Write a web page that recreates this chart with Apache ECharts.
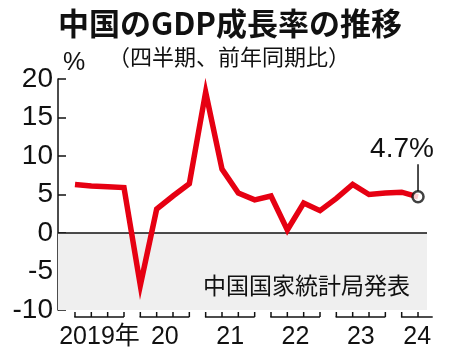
<!DOCTYPE html>
<html><head><meta charset="utf-8">
<script src="https://cdn.jsdelivr.net/npm/echarts@6/dist/echarts.min.js"></script>
<style>html,body{margin:0;padding:0;background:#fff}#c{width:450px;height:358px}</style>
</head><body><div id="c"></div>
<script>
// Quarterly GDP growth, 2019 Q1 .. 2024 Q2
const quarters = ['2019Q1','2019Q2','2019Q3','2019Q4','2020Q1','2020Q2','2020Q3','2020Q4','2021Q1','2021Q2','2021Q3','2021Q4','2022Q1','2022Q2','2022Q3','2022Q4','2023Q1','2023Q2','2023Q3','2023Q4','2024Q1','2024Q2'];
const growth = [6.3,6.1,6.0,5.9,-6.8,3.1,4.8,6.4,18.3,8.3,5.2,4.3,4.8,0.4,3.9,2.9,4.5,6.3,5.0,5.2,5.3,4.7];
const yearLabels = ['2019年','20','21','22','23','24'];
const yearFirstIdx = [0,4,8,12,16,20];
const yearLastIdx = [3,7,11,15,19,21];
const yTicks = [-10,-5,0,5,10,15,20];

const FONT = '"Noto Sans CJK JP", "Noto Sans", sans-serif';
const NUMFONT = '"Liberation Sans", "Noto Sans CJK JP", sans-serif';
const chart = echarts.init(document.getElementById('c'), null, {renderer:'canvas'});
const lineData = growth.map((v,i)=>[i,v]);
const bracketData = yearLabels.map((l,i)=>[yearFirstIdx[i], yearLastIdx[i], i]);

chart.setOption({
  animation:false,
  textStyle:{fontFamily:FONT},
  title:[{
    text:'中国のGDP成長率の推移', left:225, textAlign:'center', top:3,
    textStyle:{fontFamily:FONT, fontSize:31, fontWeight:'bold', color:'#111'}
  },{
    text:'（四半期、前年同期比）', left:224, textAlign:'center', top:41,
    textStyle:{fontFamily:FONT, fontSize:22, fontWeight:'normal', color:'#111'}
  },{
    text:'%', left:58, top:46,
    textStyle:{fontFamily:NUMFONT, fontSize:25, fontWeight:'normal', color:'#111'}
  }],
  grid:{left:58, top:79, right:23, bottom:48},
  xAxis:{type:'value', min:-1.04, max:21.55, show:false},
  yAxis:{type:'value', min:-10, max:20, interval:5,
    axisLine:{show:true, onZero:false, lineStyle:{color:'#111', width:1.5}},
    axisTick:{show:true, inside:true, length:8, lineStyle:{color:'#111', width:1.5}},
    splitLine:{show:false},
    axisLabel:{fontFamily:NUMFONT, fontSize:28, color:'#111', margin:5,
      formatter:v=> yTicks.includes(v) ? String(v) : ''}
  },
  series:[{
    type:'line', data:lineData, symbol:'none', z:5,
    lineStyle:{color:'#e60012', width:5.5, join:'miter'},
    markArea:{silent:true, itemStyle:{color:'#efefef'}, data:[[{yAxis:-10},{yAxis:0}]]},
    markLine:{silent:true, symbol:'none', label:{show:false},
      lineStyle:{color:'#111', width:1.5, type:'solid'}, data:[{yAxis:0}]},
    markPoint:{silent:true, z:6, data:[{
      coord:[21, growth[21]], symbol:'rect', symbolSize:[1.5,27], symbolOffset:[0,-19],
      itemStyle:{color:'#111'},
      label:{show:true, position:'top', distance:1, offset:[-16,0],
        formatter:growth[21]+'%', fontFamily:NUMFONT, fontSize:28, color:'#111'}
    }]}
  },{
    type:'scatter', data:[[21, growth[21]]], symbol:'circle', symbolSize:11, z:7,
    itemStyle:{color:'#fff', borderColor:'#111', borderWidth:2.5}
  },{
    type:'custom', data:bracketData, clip:false, z:3,
    renderItem:function(params, api){
      const s = api.value(0), e = api.value(1), k = api.value(2);
      const p0 = api.coord([s,-10]);
      const p1 = api.coord([e,-10]);
      const step = api.coord([1,-10])[0]-api.coord([0,-10])[0];
      const ext = (e - s < 3) ? step*0.9 : 0;
      const yb = p0[1] + 7, yt = p0[1] + 2;
      const children = [];
      children.push({type:'line', shape:{x1:p0[0]-0.75, y1:yb, x2:p1[0]+ext, y2:yb}, style:{stroke:'#111', lineWidth:1.5}});
      for(let i=s;i<=e;i++){
        const x = api.coord([i,-10])[0];
        children.push({type:'line', shape:{x1:x, y1:yb, x2:x, y2:yt}, style:{stroke:'#111', lineWidth:1.5}});
      }
      const cx = (p0[0] + p1[0] + ext)/2;
      children.push({type:'text', style:{text:yearLabels[k], x:cx, y:yb+20, align:'center', verticalAlign:'middle',
        font:'25px ' + NUMFONT, fill:'#111'}});
      return {type:'group', children:children};
    }
  }],
  graphic:[{
    type:'text', left:203, top:274, z:100,
    style:{text:'中国国家統計局発表', font:'23px ' + FONT, fill:'#111'}
  }]
});
</script></body></html>
